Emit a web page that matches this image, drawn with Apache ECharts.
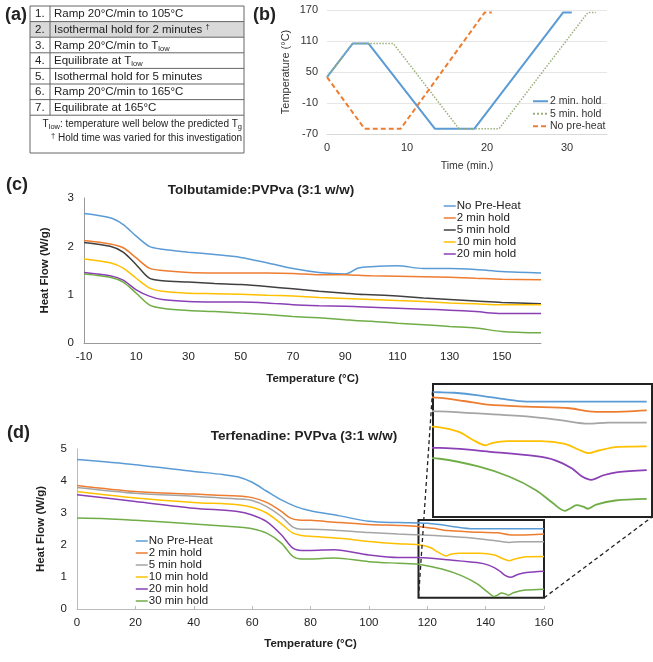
<!DOCTYPE html>
<html>
<head>
<meta charset="utf-8">
<script src="https://cdn.jsdelivr.net/npm/echarts@6/dist/echarts.min.js"></script>
<style>
  html, body { margin: 0; padding: 0; background: #fff; }
  #chart { width: 653px; height: 662px; }
</style>
</head>
<body>
<div id="chart"></div>
<script>
var FONT = 'Liberation Sans, Arial, sans-serif';

// (a) DSC protocol table
var stepNumbers = ['1.', '2.', '3.', '4.', '5.', '6.', '7.'];
var stepTexts = [
  'Ramp 20°C/min to 105°C',
  'Isothermal hold for 2 minutes {sup|†}',
  'Ramp 20°C/min to T{sub|low}',
  'Equilibrate at T{sub|low}',
  'Isothermal hold for 5 minutes',
  'Ramp 20°C/min to 165°C',
  'Equilibrate at 165°C'
];
var footNotes = [
  'T{sub|low}: temperature well below the predicted T{sub|g}',
  '{sup|†} Hold time was varied for this investigation'
];

// (b) temperature programs, [time (min), temperature (°C)]
var progTwoMin = [[0, 40], [3.2, 105], [5.2, 105], [13.5, -60], [18.4, -60], [29.5, 165], [30.6, 165]];
var progFiveMin = [[0, 40], [3.2, 105], [8.3, 105], [16.5, -60], [21.5, -60], [32.6, 165], [33.6, 165]];
var progNoPreheat = [[0, 40], [4.7, -60], [9.2, -60], [19.7, 165], [20.6, 165]];
var progTempTicks = [-70, -10, 50, 110, 170];
var progTimeTicks = [0, 10, 20, 30];

// (c) Tolbutamide:PVPva heat flow
var tolbTemps = [-10, 0, 5, 10, 15, 20, 30, 40, 50, 60, 70, 80, 90, 95, 100, 110, 120, 130, 140, 150, 165];
var tolbNoPreheat = [2.68, 2.59, 2.45, 2.21, 2.0, 1.94, 1.88, 1.83, 1.77, 1.66, 1.54, 1.46, 1.43, 1.55, 1.58, 1.60, 1.54, 1.54, 1.52, 1.48, 1.45];
var tolbHold2 = [2.12, 2.05, 1.97, 1.76, 1.55, 1.50, 1.46, 1.45, 1.45, 1.45, 1.44, 1.41, 1.41, 1.40, 1.39, 1.38, 1.37, 1.36, 1.34, 1.32, 1.31];
var tolbHold5 = [2.08, 2.00, 1.88, 1.62, 1.34, 1.29, 1.26, 1.23, 1.21, 1.17, 1.12, 1.07, 1.03, 1.01, 1.00, 0.97, 0.93, 0.90, 0.87, 0.84, 0.81];
var tolbHold10 = [1.74, 1.66, 1.55, 1.34, 1.14, 1.07, 1.03, 1.02, 1.01, 0.99, 0.97, 0.94, 0.92, 0.91, 0.90, 0.88, 0.86, 0.83, 0.81, 0.79, 0.79];
var tolbHold20 = [1.46, 1.39, 1.30, 1.10, 0.97, 0.90, 0.86, 0.85, 0.85, 0.83, 0.79, 0.77, 0.76, 0.75, 0.74, 0.72, 0.70, 0.68, 0.65, 0.61, 0.61];
var tolbHold30 = [1.43, 1.36, 1.26, 1.03, 0.79, 0.72, 0.67, 0.65, 0.62, 0.59, 0.55, 0.52, 0.48, 0.46, 0.45, 0.41, 0.38, 0.34, 0.31, 0.24, 0.21];
var tolbTempTicks = [-10, 10, 30, 50, 70, 90, 110, 130, 150];

// (d) Terfenadine:PVPva heat flow, [temperature (°C), W/g]
var terfNoPreheat = [[0, 4.67], [20, 4.51], [40, 4.30], [50, 4.20], [55, 4.13], [60, 3.96], [65, 3.68], [70, 3.41], [75, 3.20], [80, 3.07], [90, 2.91], [100, 2.74], [110, 2.70], [117, 2.69], [120, 2.68], [125, 2.63], [130, 2.56], [135, 2.51], [140, 2.51], [150, 2.51], [160, 2.51]];
var terfHold2 = [[0, 3.86], [20, 3.67], [40, 3.59], [55, 3.53], [60, 3.48], [65, 3.33], [70, 3.05], [73, 2.85], [76, 2.78], [80, 2.77], [90, 2.70], [100, 2.64], [110, 2.61], [117, 2.58], [122, 2.52], [127, 2.45], [135, 2.41], [144, 2.38], [148, 2.32], [152, 2.31], [160, 2.34]];
var terfHold5 = [[0, 3.80], [20, 3.62], [40, 3.52], [55, 3.44], [60, 3.39], [65, 3.20], [70, 2.89], [74, 2.56], [77, 2.49], [80, 2.49], [90, 2.45], [100, 2.39], [110, 2.34], [117, 2.32], [125, 2.28], [135, 2.22], [142, 2.15], [148, 2.08], [152, 2.10], [160, 2.10]];
var terfHold10 = [[0, 3.67], [20, 3.47], [40, 3.33], [55, 3.26], [60, 3.18], [65, 3.00], [70, 2.66], [74, 2.37], [77, 2.30], [80, 2.27], [90, 2.21], [100, 2.11], [110, 2.04], [117, 2.01], [121, 1.92], [124, 1.76], [126.5, 1.66], [128, 1.71], [131, 1.74], [138, 1.74], [143, 1.69], [146, 1.57], [148, 1.51], [150, 1.56], [154, 1.63], [160, 1.64]];
var terfHold20 = [[0, 3.57], [20, 3.36], [40, 3.15], [55, 3.05], [60, 2.94], [65, 2.73], [70, 2.32], [74, 1.90], [77, 1.83], [80, 1.83], [88, 1.85], [100, 1.69], [110, 1.61], [117, 1.61], [128, 1.53], [137, 1.45], [141, 1.37], [144.5, 1.21], [146.5, 1.06], [148.5, 0.99], [151, 1.08], [154, 1.14], [160, 1.18]];
var terfHold30 = [[0, 2.84], [10, 2.82], [20, 2.77], [40, 2.66], [55, 2.56], [60, 2.51], [65, 2.37], [70, 2.06], [74, 1.64], [77, 1.56], [80, 1.56], [88, 1.59], [100, 1.48], [110, 1.43], [117, 1.40], [125, 1.25], [131.5, 1.05], [137, 0.79], [140.5, 0.54], [143, 0.39], [144.2, 0.44], [145.4, 0.50], [146.8, 0.47], [147.8, 0.43], [149.5, 0.51], [153.5, 0.59], [160, 0.62]];
var zoomBox = [[117, 0.35], [160, 2.78]];

var colors = {
  none: '#5b9bd5', h2: '#ed7d31', h5dark: '#404040', h5: '#a5a5a5',
  h10: '#ffc000', h20: '#8a3fb5', h30: '#70ad47', progDot: '#9bb07a'
};

function pairs(xs, ys) {
  return xs.map(function (x, i) { return [x, ys[i]]; });
}

function curve(name, data, color, axis, width) {
  return {
    name: name, type: 'line', data: data,
    xAxisIndex: axis, yAxisIndex: axis,
    showSymbol: false, symbol: 'none', smooth: 0.3,
    lineStyle: { color: color, width: width || 1.5 },
    itemStyle: { color: color },
    emphasis: { disabled: true }
  };
}

function legendItem(name, color) {
  return { name: name, itemStyle: { color: color, opacity: 0 }, lineStyle: { color: color, width: 1.5 } };
}

var labelText = { fontFamily: FONT, fontSize: 11.5, color: '#222' };
var nameText = { fontFamily: FONT, fontSize: 11.5, color: '#222', fontWeight: 'bold' };

var chart = echarts.init(document.getElementById('chart'));

var dSeries = [
  curve('No Pre-Heat', terfNoPreheat, colors.none, 2),
  curve('2 min hold', terfHold2, colors.h2, 2),
  curve('5 min hold', terfHold5, colors.h5, 2),
  curve('10 min hold', terfHold10, colors.h10, 2),
  curve('20 min hold', terfHold20, colors.h20, 2),
  curve('30 min hold', terfHold30, colors.h30, 2)
];
dSeries[0].markArea = {
  silent: true,
  itemStyle: { color: 'rgba(0,0,0,0)', borderColor: '#222', borderWidth: 2 },
  data: [[{ coord: zoomBox[0] }, { coord: zoomBox[1] }]]
};

var option = {
  animation: false,
  textStyle: { fontFamily: FONT },
  grid: [
    { left: 327, top: 10, width: 280, height: 124 },
    { left: 84, top: 198, width: 457, height: 145 },
    { left: 77, top: 449, width: 467, height: 160 },
    { left: 433, top: 384, width: 219, height: 133, show: true, backgroundColor: '#fff', borderColor: '#222', borderWidth: 2 }
  ],
  xAxis: [
    {
      gridIndex: 0, type: 'value', min: 0, max: 35,
      axisLine: { onZero: false, lineStyle: { color: '#d9d9d9' } }, axisTick: { show: false }, splitLine: { show: false },
      axisLabel: { customValues: progTimeTicks, fontFamily: FONT, fontSize: 11, color: '#333', margin: 8 },
      name: 'Time (min.)', nameLocation: 'middle', nameGap: 27,
      nameTextStyle: { fontFamily: FONT, fontSize: 10.5, color: '#333' }
    },
    {
      gridIndex: 1, type: 'value', min: -10, max: 165,
      axisLine: { onZero: false, lineStyle: { color: '#999' } }, axisTick: { show: false }, splitLine: { show: false },
      axisLabel: Object.assign({ customValues: tolbTempTicks, margin: 8 }, labelText),
      name: 'Temperature (°C)', nameLocation: 'middle', nameGap: 30, nameTextStyle: nameText
    },
    {
      gridIndex: 2, type: 'value', min: 0, max: 160, interval: 20,
      axisLine: { onZero: false, lineStyle: { color: '#bbb' } }, axisTick: { inside: true, length: 3, lineStyle: { color: '#bbb' } },
      splitLine: { show: false },
      axisLabel: Object.assign({ margin: 8 }, labelText),
      name: 'Temperature (°C)', nameLocation: 'middle', nameGap: 29, nameTextStyle: nameText
    },
    { gridIndex: 3, type: 'value', min: 115.6, max: 161.1, show: false }
  ],
  yAxis: [
    {
      gridIndex: 0, type: 'value', min: -70, max: 170,
      axisLine: { show: false, onZero: false }, axisTick: { show: false, customValues: progTempTicks },
      splitLine: { show: true, lineStyle: { color: '#e6e6e6' } },
      axisLabel: { customValues: progTempTicks, fontFamily: FONT, fontSize: 11, color: '#333', margin: 9 },
      name: 'Temperature (°C)', nameLocation: 'middle', nameGap: 36,
      nameTextStyle: { fontFamily: FONT, fontSize: 11, color: '#333' }
    },
    {
      gridIndex: 1, type: 'value', min: 0, max: 3, interval: 1,
      axisLine: { show: true, onZero: false, lineStyle: { color: '#999' } }, axisTick: { show: false }, splitLine: { show: false },
      axisLabel: Object.assign({ margin: 10 }, labelText),
      name: 'Heat Flow (W/g)', nameLocation: 'middle', nameGap: 33, nameTextStyle: nameText
    },
    {
      gridIndex: 2, type: 'value', min: 0, max: 5, interval: 1,
      axisLine: { show: true, onZero: false, lineStyle: { color: '#bbb' } }, axisTick: { show: false }, splitLine: { show: false },
      axisLabel: Object.assign({ margin: 10 }, labelText),
      name: 'Heat Flow (W/g)', nameLocation: 'middle', nameGap: 30, nameTextStyle: nameText
    },
    { gridIndex: 3, type: 'value', min: 0.27, max: 2.85, show: false }
  ],
  title: [
    { text: 'Tolbutamide:PVPva (3:1 w/w)', left: 256, top: 178, textAlign: 'center',
      textStyle: { fontFamily: FONT, fontSize: 13.5, fontWeight: 'bold', color: '#222' } },
    { text: 'Terfenadine: PVPva (3:1 w/w)', left: 299, top: 424, textAlign: 'center',
      textStyle: { fontFamily: FONT, fontSize: 13.5, fontWeight: 'bold', color: '#222' } }
  ],
  legend: [
    {
      left: 527, top: 90, orient: 'vertical', itemWidth: 15, itemHeight: 8, itemGap: 0,
      itemStyle: { opacity: 0 },
      textStyle: { fontFamily: FONT, fontSize: 10.5, lineHeight: 12.5, color: '#333', padding: [0, 0, 0, -3] },
      data: ['2 min. hold', '5 min. hold', 'No pre-heat']
    },
    {
      left: 438, top: 195, orient: 'vertical', itemWidth: 12, itemHeight: 8, itemGap: 0,
      textStyle: { fontFamily: FONT, fontSize: 11.5, lineHeight: 12, color: '#222', padding: [0, 0, 0, -4] },
      data: [legendItem('No Pre-Heat', colors.none), legendItem('2 min hold', colors.h2),
        legendItem('5 min hold', colors.h5dark), legendItem('10 min hold', colors.h10),
        legendItem('20 min hold', colors.h20)]
    },
    {
      left: 130, top: 530, orient: 'vertical', itemWidth: 12, itemHeight: 8, itemGap: 0,
      textStyle: { fontFamily: FONT, fontSize: 11.5, lineHeight: 11.4, color: '#222', padding: [0, 0, 0, -4] },
      data: [legendItem('No Pre-Heat', colors.none), legendItem('2 min hold', colors.h2),
        legendItem('5 min hold', colors.h5), legendItem('10 min hold', colors.h10),
        legendItem('20 min hold', colors.h20), legendItem('30 min hold', colors.h30)]
    }
  ],
  series: [
    Object.assign(curve('2 min. hold', progTwoMin, colors.none, 0, 2), { smooth: false }),
    Object.assign(curve('5 min. hold', progFiveMin, colors.progDot, 0, 1.5), { smooth: false, lineStyle: { color: colors.progDot, width: 1.5, type: 'dotted' } }),
    Object.assign(curve('No pre-heat', progNoPreheat, colors.h2, 0, 2), { smooth: false, lineStyle: { color: colors.h2, width: 2, type: [5, 3] } }),

    curve('No Pre-Heat', pairs(tolbTemps, tolbNoPreheat), colors.none, 1),
    curve('2 min hold', pairs(tolbTemps, tolbHold2), colors.h2, 1),
    curve('5 min hold', pairs(tolbTemps, tolbHold5), colors.h5dark, 1),
    curve('10 min hold', pairs(tolbTemps, tolbHold10), colors.h10, 1),
    curve('20 min hold', pairs(tolbTemps, tolbHold20), colors.h20, 1),
    curve('30 min hold', pairs(tolbTemps, tolbHold30), colors.h30, 1)
  ].concat(dSeries).concat([
    curve('No Pre-Heat', terfNoPreheat, colors.none, 3, 1.8),
    curve('2 min hold', terfHold2, colors.h2, 3, 1.8),
    curve('5 min hold', terfHold5, colors.h5, 3, 1.8),
    curve('10 min hold', terfHold10, colors.h10, 3, 1.8),
    curve('20 min hold', terfHold20, colors.h20, 3, 1.8),
    curve('30 min hold', terfHold30, colors.h30, 3, 1.8)
  ])
};

chart.setOption(option);

// table, panel letters and zoom connectors
var rowH = 15.6, tableX = 30, tableY = 6, tableW = 214;
var rich = {
  sub: { fontSize: 7.5, padding: [6, 0, 0, 0], fontFamily: FONT, fill: '#222' },
  sup: { fontSize: 7.5, padding: [0, 0, 5, 0], fontFamily: FONT, fill: '#222' }
};
var els = [];
els.push({ type: 'rect', shape: { x: tableX, y: tableY + rowH, width: tableW, height: rowH }, style: { fill: '#d9d9d9' } });
els.push({ type: 'rect', shape: { x: tableX, y: tableY, width: tableW, height: 147 }, style: { fill: 'none', stroke: '#666', lineWidth: 1 } });
for (var i = 1; i <= stepTexts.length; i++) {
  els.push({ type: 'line', shape: { x1: tableX, y1: tableY + rowH * i, x2: tableX + tableW, y2: tableY + rowH * i }, style: { stroke: '#666', lineWidth: 1 } });
}
els.push({ type: 'line', shape: { x1: 50, y1: tableY, x2: 50, y2: tableY + rowH * stepTexts.length }, style: { stroke: '#666', lineWidth: 1 } });
stepTexts.forEach(function (t, i) {
  var cy = tableY + rowH * (i + 0.5) + 0.5;
  els.push({ type: 'text', x: 35, y: cy, style: { text: stepNumbers[i], font: '11.5px ' + FONT, fill: '#222', verticalAlign: 'middle' } });
  els.push({ type: 'text', x: 54, y: cy, style: { text: t, rich: rich, font: '11.5px ' + FONT, fill: '#222', verticalAlign: 'middle' } });
});
footNotes.forEach(function (t, i) {
  els.push({ type: 'text', x: 242, y: 124 + i * 14, style: { text: t, rich: rich, font: '10px ' + FONT, fill: '#222', align: 'right', verticalAlign: 'middle' } });
});
[['(a)', 5, 15], ['(b)', 253, 15], ['(c)', 6, 185], ['(d)', 7, 433]].forEach(function (p) {
  els.push({ type: 'text', x: p[1], y: p[2], style: { text: p[0], font: 'bold 18px ' + FONT, fill: '#222', verticalAlign: 'middle' } });
});

var boxBL = chart.convertToPixel({ xAxisIndex: 2, yAxisIndex: 2 }, [zoomBox[0][0], zoomBox[0][1]]);
var boxBR = chart.convertToPixel({ xAxisIndex: 2, yAxisIndex: 2 }, [zoomBox[1][0], zoomBox[0][1]]);
var insetTL = chart.convertToPixel({ xAxisIndex: 3, yAxisIndex: 3 }, [115.6, 2.85]);
var insetBR = chart.convertToPixel({ xAxisIndex: 3, yAxisIndex: 3 }, [161.1, 0.27]);
[[boxBL, insetTL], [boxBR, insetBR]].forEach(function (seg) {
  els.push({ type: 'line', z: 10, shape: { x1: seg[0][0], y1: seg[0][1], x2: seg[1][0], y2: seg[1][1] },
    style: { stroke: '#222', lineWidth: 1.3, lineDash: [4, 3] } });
});

chart.setOption({ graphic: { elements: els } });
</script>
</body>
</html>
